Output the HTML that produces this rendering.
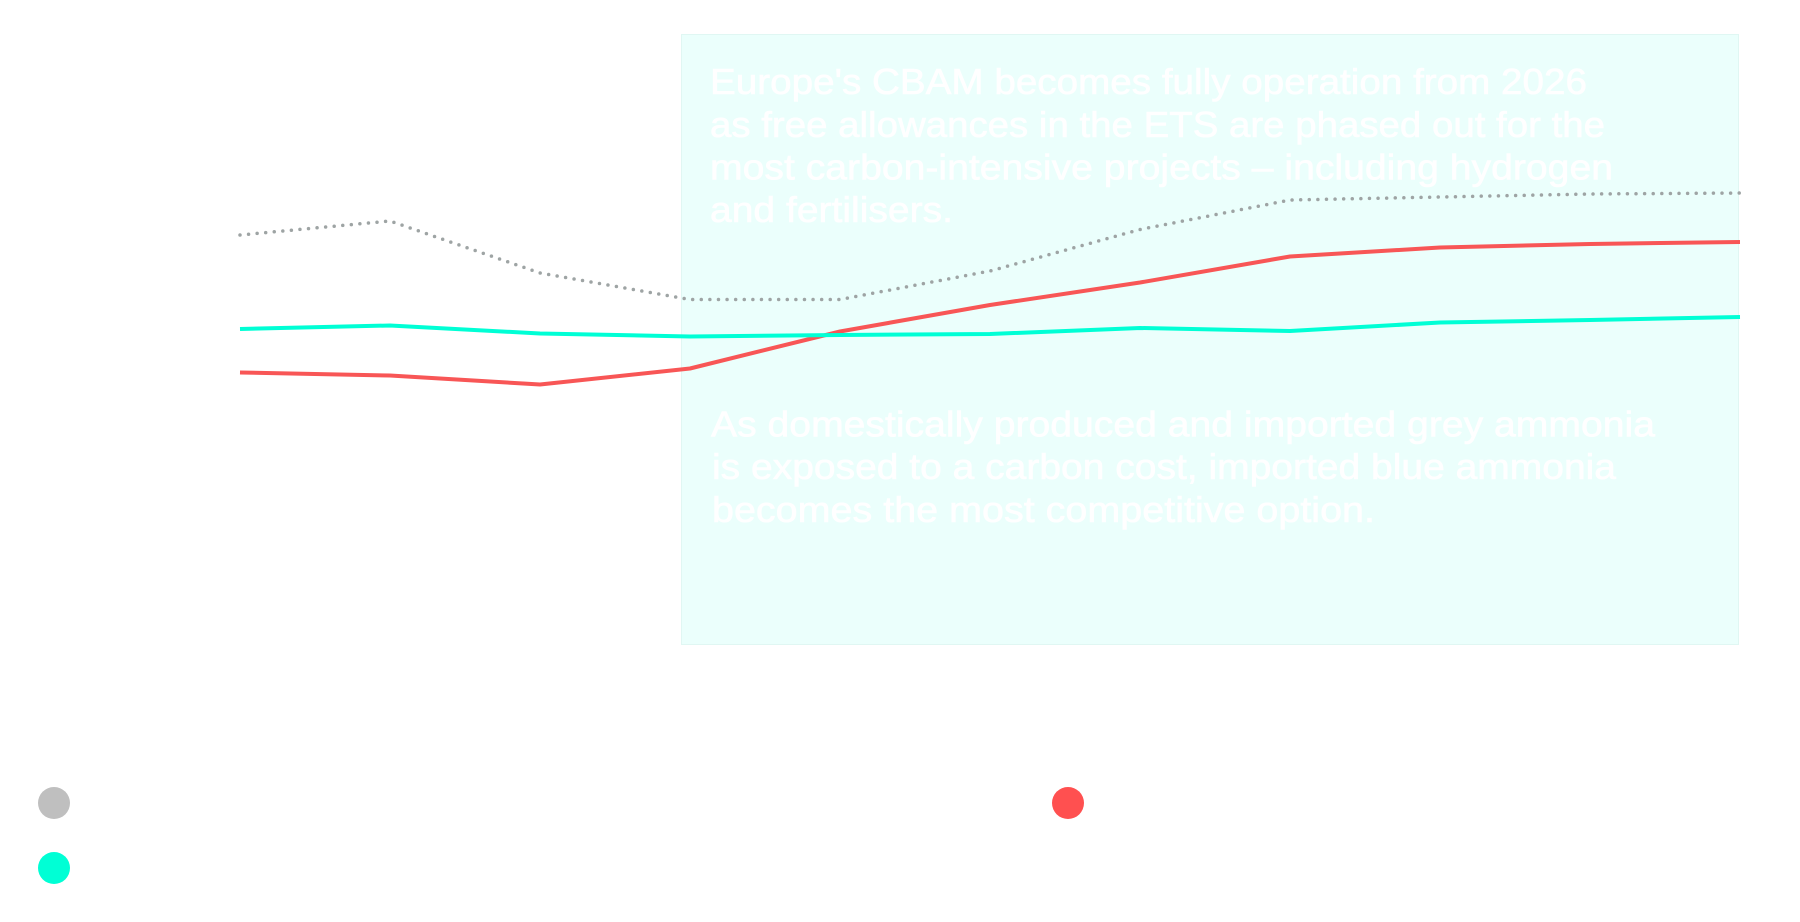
<!DOCTYPE html>
<html>
<head>
<meta charset="utf-8">
<style>
  html, body { margin: 0; padding: 0; background: #ffffff; }
  body { width: 1800px; height: 922px; overflow: hidden; }
  svg { display: block; }
  text { font-family: "Liberation Sans", "DejaVu Sans", sans-serif; }
</style>
</head>
<body>
<svg width="1800" height="922" viewBox="0 0 1800 922" xmlns="http://www.w3.org/2000/svg">
  <rect x="0" y="0" width="1800" height="922" fill="#ffffff"/>

  <!-- annotation box -->
  <rect x="681.5" y="34.5" width="1057" height="610" fill="#ebfffc" stroke="#e0f7f3" stroke-width="1"/>

  <!-- red series -->
  <polyline fill="none" stroke="#f85656" stroke-width="4" stroke-linejoin="round"
    points="240,372.5 390,375.5 540,384.5 690,368.5 840,331.5 990,305 1140,282.5 1290,256.5 1440,247.5 1590,244 1740,242"/>

  <!-- teal series -->
  <polyline fill="none" stroke="#00ffd5" stroke-width="4" stroke-linejoin="round"
    points="240,329 390,325.5 540,333.5 690,336.5 840,335 990,334 1140,328 1290,331 1440,322.5 1590,320 1740,317"/>

  <!-- grey dotted series -->
  <polyline fill="none" stroke="#9ea4a4" stroke-width="3.5" stroke-linecap="round" stroke-linejoin="round"
    stroke-dasharray="0 8.6"
    points="240,235 390,221 540,273 690,299.5 840,299.5 990,271 1140,229.5 1290,200 1440,197 1590,194 1740,193"/>

  <!-- annotation text block 1 -->
  <g fill="#ffffff" stroke="#ffffff" stroke-width="0.6" font-size="36">
    <text x="710" y="94" textLength="877" lengthAdjust="spacingAndGlyphs">Europe's CBAM becomes fully operation from 2026</text>
    <text x="710" y="137" textLength="895" lengthAdjust="spacingAndGlyphs">as free allowances in the ETS are phased out for the</text>
    <text x="710" y="179.5" textLength="903" lengthAdjust="spacingAndGlyphs">most carbon-intensive projects – including hydrogen</text>
    <text x="710" y="222" textLength="243" lengthAdjust="spacingAndGlyphs">and fertilisers.</text>
  </g>

  <!-- annotation text block 2 -->
  <g fill="#ffffff" stroke="#ffffff" stroke-width="0.6" font-size="36">
    <text x="711" y="436.5" textLength="944" lengthAdjust="spacingAndGlyphs">As domestically produced and imported grey ammonia</text>
    <text x="712" y="479" textLength="904" lengthAdjust="spacingAndGlyphs">is exposed to a carbon cost, imported blue ammonia</text>
    <text x="712" y="522" textLength="663" lengthAdjust="spacingAndGlyphs">becomes the most competitive option.</text>
  </g>

  <!-- legend -->
  <circle cx="54" cy="803" r="16" fill="#bfbfbf"/>
  <circle cx="1068" cy="803" r="16" fill="#ff5050"/>
  <circle cx="54" cy="868" r="16" fill="#00ffd5"/>
</svg>
</body>
</html>
